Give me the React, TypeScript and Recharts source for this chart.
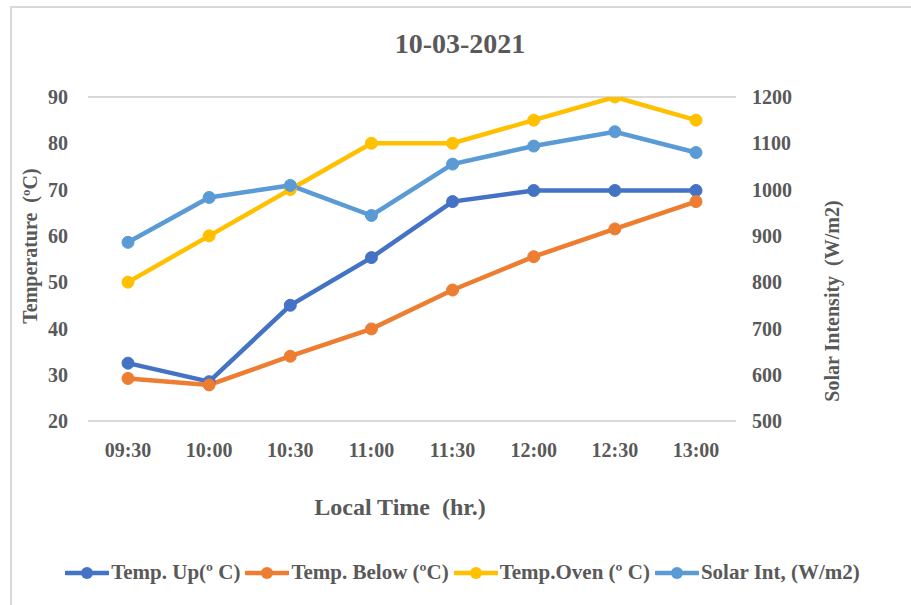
import React from "react";
import { LineChart, Line, XAxis, YAxis, CartesianGrid, Label } from "recharts";

const times = ["09:30", "10:00", "10:30", "11:00", "11:30", "12:00", "12:30", "13:00"];
const tempUp = [32.5, 28.5, 45, 55.3, 67.4, 69.8, 69.8, 69.8];
const tempBelow = [29.2, 27.8, 34, 39.9, 48.3, 55.5, 61.5, 67.4];
const tempOven = [50, 60, 70, 80, 80, 85, 90, 85];
const solarInt = [886, 983, 1009, 944, 1055, 1094, 1125, 1080];

const leftTicks = [20, 30, 40, 50, 60, 70, 80, 90];
const rightTicks = [500, 600, 700, 800, 900, 1000, 1100, 1200];

const seriesInfo = [
  { key: "up", name: "Temp. Up(º C)", color: "#4472C4", axis: "left" },
  { key: "below", name: "Temp. Below (ºC)", color: "#ED7D31", axis: "left" },
  { key: "oven", name: "Temp.Oven (º C)", color: "#FFC000", axis: "left" },
  { key: "solar", name: "Solar Int, (W/m2)", color: "#5B9BD5", axis: "right" },
];

const data = times.map((t, i) => ({
  time: t,
  up: tempUp[i],
  below: tempBelow[i],
  oven: tempOven[i],
  solar: solarInt[i],
}));

const FONT = "'Liberation Serif', 'Times New Roman', serif";
const TEXT = "#595959";

const LegendBox = () => (
  <div
    style={{
      position: "absolute",
      left: 0,
      top: 560,
      width: 930,
      display: "flex",
      justifyContent: "center",
      alignItems: "center",
      fontFamily: FONT,
      fontWeight: "bold",
      fontSize: 21,
      color: TEXT,
    }}
  >
    {seriesInfo.map((s) => (
      <div key={s.key} style={{ display: "flex", alignItems: "center", marginRight: 5 }}>
        <svg width={44} height={14}>
          <line x1={1} y1={7} x2={43} y2={7} stroke={s.color} strokeWidth={4.5} strokeLinecap="round" />
          <circle cx={22} cy={7} r={6} fill={s.color} />
        </svg>
        <span style={{ marginLeft: 2, whiteSpace: "nowrap" }}>{s.name}</span>
      </div>
    ))}
  </div>
);

export default function App() {
  return (
    <div
      style={{
        position: "absolute",
        left: 0,
        top: 0,
        width: 911,
        height: 605,
        background: "#fff",
        overflow: "hidden",
      }}
    >
      <div
        style={{
          position: "absolute",
          left: 10,
          top: 6,
          width: 911,
          height: 605,
          borderTop: "2px solid #D9D9D9",
          borderLeft: "2px solid #D9D9D9",
        }}
      />
      <div
        style={{
          position: "absolute",
          left: 0,
          top: 28,
          width: 920,
          textAlign: "center",
          fontFamily: FONT,
          fontWeight: "bold",
          fontSize: 28,
          color: TEXT,
        }}
      >
        10-03-2021
      </div>
      <div style={{ position: "absolute", left: 0, top: 0 }}>
        <LineChart width={911} height={605} data={data} margin={{ top: 97, right: 0, bottom: 124, left: 0 }}>
          <CartesianGrid vertical={false} stroke="#D9D9D9" strokeWidth={2} />
          <XAxis
            dataKey="time"
            axisLine={false}
            tickLine={false}
            tickSize={0}
            tickMargin={22}
            height={60}
            padding={{ left: 40, right: 40 }}
            tick={{ fill: TEXT, fontFamily: FONT, fontWeight: "bold", fontSize: 20 }}
          >
            <Label
              value={"Local Time\u00A0 (hr.)"}
              position="insideBottom"
              offset={-34}
              dx={-12}
              style={{ fill: TEXT, fontFamily: FONT, fontWeight: "bold", fontSize: 24 }}
            />
          </XAxis>
          <YAxis
            yAxisId="left"
            orientation="left"
            width={88}
            domain={[20, 90]}
            ticks={leftTicks}
            allowDataOverflow
            axisLine={false}
            tickLine={false}
            tickSize={0}
            tickMargin={20}
            tick={{ fill: TEXT, fontFamily: FONT, fontWeight: "bold", fontSize: 20 }}
          >
            <Label
              value={"Temperature\u00A0 (ºC)"}
              angle={-90}
              position="insideLeft"
              offset={30}
              dy={-13}
              style={{ textAnchor: "middle", fill: TEXT, fontFamily: FONT, fontWeight: "bold", fontSize: 20 }}
            />
          </YAxis>
          <YAxis
            yAxisId="right"
            orientation="right"
            width={175}
            domain={[500, 1200]}
            ticks={rightTicks}
            allowDataOverflow
            axisLine={false}
            tickLine={false}
            tickSize={0}
            tickMargin={16}
            tick={{ fill: TEXT, fontFamily: FONT, fontWeight: "bold", fontSize: 20 }}
          >
            <Label
              value={"Solar Intensity\u00A0 (W/m2)"}
              angle={-90}
              position="insideRight"
              offset={79}
              dy={42}
              style={{ textAnchor: "middle", fill: TEXT, fontFamily: FONT, fontWeight: "bold", fontSize: 20 }}
            />
          </YAxis>
          {seriesInfo.map((s) => (
            <Line
              key={s.key}
              yAxisId={s.axis}
              dataKey={s.key}
              name={s.name}
              stroke={s.color}
              strokeWidth={4.5}
              dot={{ r: 6, fill: s.color, stroke: s.color, strokeWidth: 1 }}
              activeDot={false}
              isAnimationActive={false}
            />
          ))}
        </LineChart>
      </div>
      <LegendBox />
    </div>
  );
}
